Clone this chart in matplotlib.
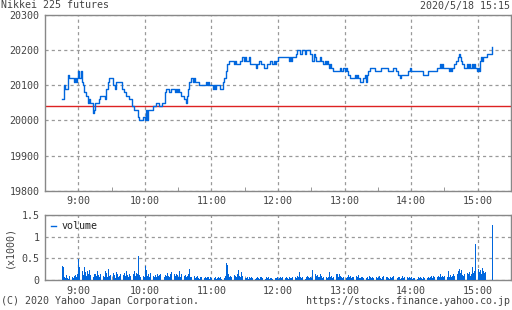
import matplotlib
matplotlib.use("Agg")
import matplotlib.pyplot as plt
import numpy as np

# price change points: minutes after 8:45, price
price_min = [0, 2, 3, 6, 7, 11, 12, 13, 14, 15, 16, 17, 18, 19, 20, 22, 24, 25, 26, 28,
             29, 30, 34, 35, 39, 40, 42, 43, 46, 48, 49, 54, 56, 58, 61, 63, 65, 69, 70, 73,
             75, 76, 77, 78, 82, 85, 88, 90, 93, 94, 97, 99, 102, 103, 104, 105, 106, 108, 110, 112,
             113, 114, 115, 117, 118, 119, 120, 124, 130, 131, 132, 133, 136, 137, 138, 139, 143, 145, 146, 148,
             149, 151, 155, 156, 157, 161, 163, 164, 165, 166, 169, 170, 175, 176, 178, 180, 182, 185, 188, 190,
             191, 192, 193, 195, 205, 206, 207, 208, 211, 212, 215, 217, 219, 220, 224, 226, 227, 228, 229, 233,
             234, 236, 237, 238, 239, 240, 241, 242, 243, 245, 251, 252, 254, 255, 256, 257, 258, 260, 264, 265,
             266, 267, 269, 272, 273, 274, 275, 276, 278, 282, 288, 294, 299, 301, 303, 305, 306, 312, 314, 315,
             326, 330, 338, 341, 342, 343, 344, 349, 350, 351, 352, 354, 355, 357, 358, 359, 360, 361, 363, 365,
             366, 367, 368, 370, 371, 372, 373, 374, 375, 376, 377, 378, 379, 380, 383, 388]
price_val = [20060, 20100, 20090, 20130, 20120, 20110, 20120, 20110, 20120, 20140, 20120, 20140, 20110, 20100, 20080, 20070, 20050, 20060, 20050, 20020,
             20030, 20050, 20060, 20070, 20060, 20090, 20110, 20120, 20100, 20090, 20110, 20090, 20080, 20070, 20060, 20040, 20030, 20010, 20000, 20010,
             20000, 20030, 20000, 20030, 20040, 20050, 20040, 20050, 20080, 20090, 20080, 20090, 20080, 20090, 20080, 20090, 20080, 20070, 20060, 20050,
             20070, 20090, 20110, 20120, 20110, 20120, 20110, 20100, 20110, 20100, 20110, 20100, 20090, 20100, 20090, 20100, 20090, 20110, 20120, 20140,
             20160, 20170, 20160, 20170, 20160, 20170, 20180, 20170, 20180, 20170, 20180, 20160, 20150, 20160, 20170, 20160, 20150, 20160, 20170, 20160,
             20170, 20160, 20170, 20180, 20170, 20180, 20170, 20180, 20190, 20200, 20190, 20200, 20190, 20200, 20190, 20170, 20190, 20180, 20170, 20180,
             20170, 20160, 20170, 20160, 20170, 20160, 20150, 20160, 20150, 20140, 20150, 20140, 20150, 20140, 20150, 20140, 20130, 20120, 20130, 20120,
             20130, 20120, 20110, 20120, 20130, 20110, 20130, 20140, 20150, 20140, 20150, 20140, 20150, 20140, 20130, 20120, 20130, 20140, 20150, 20140,
             20130, 20140, 20150, 20160, 20150, 20160, 20150, 20140, 20150, 20140, 20150, 20160, 20170, 20180, 20190, 20180, 20170, 20160, 20150, 20160,
             20150, 20160, 20150, 20160, 20150, 20160, 20150, 20140, 20150, 20140, 20170, 20180, 20170, 20180, 20190, 20210]
prev_close = 20040

# volume per minute from 8:45
volume = [330, 300, 60, 40, 110, 50, 30, 90, 140, 60, 40, 100, 120, 80, 150,
          480, 300, 250, 200, 120, 290, 180, 90, 200, 150, 230, 110, 160, 70, 140,
          150, 90, 210, 120, 60, 140, 180, 100, 80, 200, 170, 60, 260, 90, 110,
          70, 160, 120, 50, 190, 130, 80, 100, 140, 60, 110, 170, 90, 200, 120,
          80, 150, 100, 60, 130, 210, 90, 160, 140, 560, 110, 80, 150, 100, 60,
          330, 230, 90, 130, 70, 160, 200, 100, 80, 120, 60, 150, 90, 110, 140,
          80, 320, 60, 120, 90, 170, 100, 70, 130, 180, 60, 150, 90, 140, 110,
          70, 200, 80, 150, 120, 90, 120, 60, 100, 140, 260, 80, 60, 110, 90,
          40, 70, 100, 50, 30, 80, 60, 90, 40, 70, 50, 80, 60, 30, 70,
          50, 90, 40, 60, 30, 50, 80, 40, 60, 30, 70, 50, 90, 390, 340,
          150, 80, 100, 60, 200, 120, 90, 70, 140, 230, 100, 60, 180, 90, 230,
          50, 40, 70, 30, 80, 50, 60, 40, 90, 30, 50, 70, 40, 30, 60,
          80, 40, 50, 30, 70, 40, 60, 30, 50, 40, 30, 60, 50, 40, 70,
          30, 50, 80, 40, 60, 30, 40, 70, 50, 30, 60, 40, 50, 80, 40,
          60, 50, 90, 70, 190, 60, 40, 80, 50, 30, 70, 100, 60, 50, 80,
          40, 220, 150, 130, 100, 120, 80, 60, 140, 90, 50, 70, 110, 60, 40,
          80, 180, 60, 90, 50, 70, 40, 130, 150, 60, 140, 100, 70, 50, 60,
          90, 40, 70, 120, 60, 100, 50, 80, 60, 180, 90, 70, 110, 50, 40,
          60, 80, 40, 100, 50, 70, 30, 90, 60, 40, 80, 50, 150, 70, 40,
          60, 90, 50, 30, 70, 100, 40, 60, 80, 50, 30, 70, 40, 60, 90,
          50, 70, 40, 80, 60, 30, 50, 90, 40, 60, 30, 70, 50, 80, 40,
          60, 30, 50, 40, 70, 30, 60, 40, 80, 50, 30, 60, 40, 70, 50,
          80, 40, 60, 90, 50, 100, 70, 120, 60, 90, 80, 130, 70, 100, 60,
          90, 110, 70, 200, 80, 120, 60, 100, 140, 90, 110, 150, 200, 250, 160,
          230, 120, 90, 150, 110, 170, 130, 180, 100, 140, 300, 160, 200, 820, 300,
          250, 180, 220, 150, 270, 200, 160, 180, 0, 0, 0, 0, 0, 1270]

hour_ticks = [9, 10, 11, 12, 13, 14, 15]
hour_labels = ["9:00", "10:00", "11:00", "12:00", "13:00", "14:00", "15:00"]
price_ticks = [19800, 19900, 20000, 20100, 20200, 20300]
vol_ticks = [0, 0.5, 1, 1.5]
vol_labels = ["0", "0.5", "1", "1.5"]

BLUE = "#0066dd"
RED = "#dd2222"
GRID = "#999999"
FRAME = "#888888"
TXT = "#444444"
FONT = "DejaVu Sans Mono"
FS = 7.2

plt.rcParams["font.family"] = FONT
plt.rcParams["font.size"] = FS

fig = plt.figure(figsize=(5.12, 3.10), dpi=100)
ax = fig.add_axes([45 / 512, (310 - 190.7) / 310, 466 / 512, 175.7 / 310])
axv = fig.add_axes([45 / 512, (310 - 280) / 310, 466 / 512, 65 / 310])

t_price = 8.75 + np.array(price_min) / 60.0
t_vol = 8.75 + np.arange(len(volume)) / 60.0

xmin, xmax = 8.5, 8.5 + 466 / 67.0


def style(a):
    a.set_xlim(xmin, xmax)
    a.set_xticks(hour_ticks)
    a.set_xticks(np.arange(8.5, 15.6, 0.5), minor=True)
    a.grid(True, which="major", color=GRID, linestyle=(0, (2.5, 2.5)), linewidth=0.9)
    for s in a.spines.values():
        s.set_color(FRAME)
        s.set_linewidth(1.0)
    a.tick_params(which="both", direction="in", color=FRAME, labelcolor=TXT,
                  labelsize=FS, pad=4)
    a.tick_params(which="major", length=0)
    a.tick_params(which="minor", length=3)
    a.set_axisbelow(True)


style(ax)
ax.set_ylim(19800, 20300)
ax.set_yticks(price_ticks)
ax.set_xticklabels(hour_labels)
ax.axhline(prev_close, color=RED, linewidth=1.0, zorder=2)
ax.plot(t_price, price_val, drawstyle="steps-post", color=BLUE, linewidth=1.0, zorder=3)

style(axv)
axv.set_ylim(0, 1.5)
axv.set_yticks(vol_ticks)
axv.set_yticklabels(vol_labels)
axv.set_xticklabels(hour_labels)
axv.bar(t_vol, np.array(volume) / 1000.0, width=0.8 / 60, color=BLUE, linewidth=0,
        align="edge", label="volume", zorder=3)
handle = plt.Line2D([], [], color=BLUE, linewidth=1.0)
axv.legend([handle], ["volume"], loc="upper left", frameon=False, handlelength=0.5,
           handletextpad=0.6, borderaxespad=0.2, fontsize=FS, labelcolor="#222222")
axv.set_ylabel("(x1000)", color=TXT, fontsize=FS, labelpad=5)

fig.text(1 / 512, 1 - 5.5 / 310, "Nikkei 225 futures", ha="left", va="center", color=TXT, fontsize=FS)
fig.text(510 / 512, 1 - 5.5 / 310, "2020/5/18 15:15", ha="right", va="center", color=TXT, fontsize=FS)
fig.text(1 / 512, 1 - 301 / 310, "(C) 2020 Yahoo Japan Corporation.", ha="left", va="center",
         color=TXT, fontsize=FS)
fig.text(510 / 512, 1 - 301 / 310, "https://stocks.finance.yahoo.co.jp", ha="right", va="center",
         color=TXT, fontsize=FS)

fig.savefig("out.png", dpi=100)
